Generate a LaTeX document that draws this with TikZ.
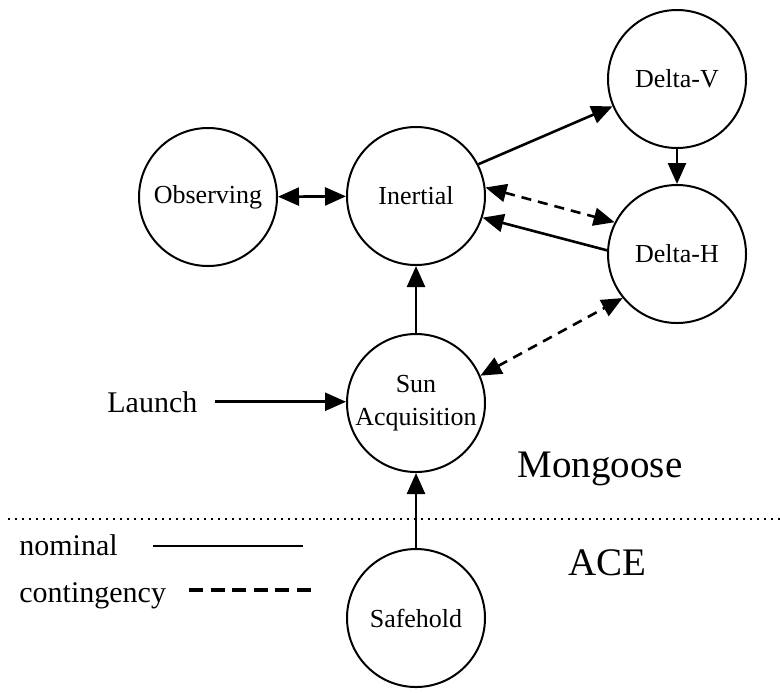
\documentclass[tikz,border=0pt]{standalone}
\usepackage{fontspec}
\setmainfont{Liberation Serif}
\usetikzlibrary{arrows.meta,positioning}

\begin{document}
\begin{tikzpicture}
[x=0.5pt, y=-0.5pt,
mode/.style={circle, draw=black, line width=1pt, minimum size=69pt, inner sep=0pt, align=center, font=\fontsize{13}{16.5}\selectfont},
textlbl/.style={inner sep=0pt, font=\fontsize{15}{18}\selectfont},
regionlbl/.style={inner sep=0pt, font=\fontsize{19.5}{23}\selectfont},
arrow/.style={line width=1.3pt, -{Triangle[length=10.5pt,width=9pt]}},
twoway/.style={line width=1.3pt, {Triangle[length=10.5pt,width=9pt]}-{Triangle[length=10.5pt,width=9pt]}},
contin/.style={dash pattern=on 5pt off 3.5pt},
]
\useasboundingbox (0,0) rectangle (780,692);

% modes
\node (observing) [mode] at (208,197) {Observing};
\node (inertial) [mode] at (416,196) {Inertial};
\node (deltav) [mode] at (677,79) {Delta-V};
\node (deltah) [mode] at (677,254) {Delta-H};
\node (sunacq) [mode] at (416,403) {Sun\\Acquisition};
\node (safehold) [mode] at (416,618) {Safehold};

% texts
\node (launch) [textlbl, anchor=base west] at (107,412) {Launch};
\node (mongoose) [regionlbl, anchor=base] at (600,477) {Mongoose};
\node (ace) [regionlbl, anchor=base] at (607,575) {ACE};
\node (nominal) [textlbl, anchor=base west] at (19,555) {nominal};
\node (contingency) [textlbl, anchor=base west] at (19,602) {contingency};

% transitions
\draw [twoway] (observing) -- (inertial);
\draw [arrow] (inertial.27) -- (deltav.203);
\draw [arrow] (deltav) -- (deltah);
\draw [twoway, contin] (inertial.7) -- (deltah.153);
\draw [arrow] (deltah.177) -- (inertial.-18);
\draw [arrow] (sunacq) -- (inertial);
\draw [twoway, contin] (sunacq.23) -- (deltah.219);
\draw [arrow, shorten <=8.5pt] (launch.east) -- (launch.east -| sunacq.west);
\draw [arrow] (safehold) -- (sunacq);

% Mongoose / ACE split
\coordinate (splitw) at (8,519);
\coordinate (splite) at (780,519);
\draw [line width=1pt, dash pattern=on 0.8pt off 2.7pt] (splitw) -- (splite);

% legend
\coordinate (nomstart) at (153,546);
\coordinate (nomend) at (303,546);
\coordinate (constart) at (189,590);
\coordinate (conend) at (311,590);
\draw [line width=1pt] (nomstart) -- (nomend);
\draw [line width=1.6pt, dash pattern=on 7pt off 3.8pt] (constart) -- (conend);
\end{tikzpicture}
\end{document}
